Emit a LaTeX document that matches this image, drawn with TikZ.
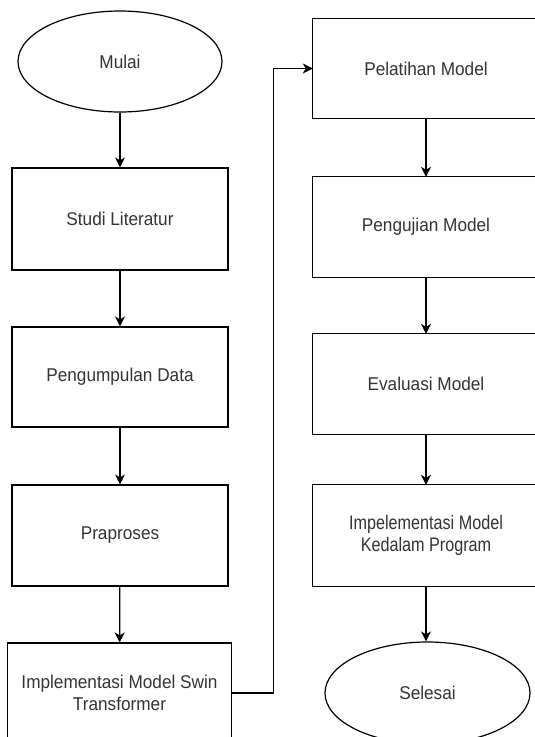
\documentclass[tikz,border=0pt]{standalone}
\usepackage{fontspec}
\setmainfont{Liberation Sans}
\newfontfamily\mainnarrow[FakeStretch=0.93]{Liberation Sans}
\newfontfamily\narrowfont[FakeStretch=0.83]{Liberation Sans}
\usetikzlibrary{shapes.geometric,arrows.meta}
\definecolor{txt}{HTML}{333333}
\tikzset{
  base/.style={font=\mainnarrow\fontsize{18.5}{22}\selectfont, text=txt, align=center, inner sep=0pt},
  lbox/.style={base, draw, line width=1.2pt, rectangle, minimum width=216pt, minimum height=100pt},
  rbox/.style={base, draw=none, rectangle, minimum width=226pt, minimum height=100pt},
  term/.style={base, draw, line width=1.2pt, ellipse},
  arr/.style={line width=1.2pt, -{Stealth[length=10pt,width=10pt,inset=3pt]}},
}
\begin{document}
\begin{tikzpicture}[x=1pt,y=-1pt]
\useasboundingbox (0,0) rectangle (535,737);
\clip (0,0) rectangle (535,737);
\fill[white] (0,0) rectangle (535,737);
% left column
\node[term, minimum width=204pt, minimum height=101pt] (mulai) at (120,61.5) {Mulai};
\node[lbox, minimum height=102pt] (studi) at (120,219) {Studi Literatur};
\node[lbox] (kumpul) at (120,377) {Pengumpulan Data};
\node[lbox, minimum height=101pt] (prap) at (120,535.5) {Praproses};
\node[lbox, minimum width=224pt] (swin) at (119.5,693) {Implementasi Model Swin\\Transformer};
% right column
\node[rbox, minimum height=99pt] (pel) at (426,68.5) {Pelatihan Model};
\node[rbox] (uji) at (426,227) {Pengujian Model};
\node[rbox] (eval) at (426,384) {Evaluasi Model};
\node[rbox, minimum height=101pt, font=\narrowfont\fontsize{19.5}{22}\selectfont] (prog) at (426,535.5) {Impelementasi Model\\Kedalam Program};
\node[term, minimum width=205pt, minimum height=102pt] (sel) at (427.5,693) {Selesai};
\foreach \n in {pel,uji,eval,prog}
  \draw[line width=1.2pt] (\n.north west) rectangle ([xshift=30pt]\n.south east);
% connectors
\draw[arr] (mulai.south) -- (studi.north);
\draw[arr] (studi) -- (kumpul);
\draw[arr] (kumpul) -- (prap);
\draw[arr] (prap) -- (swin);
\draw[arr] (swin.east) -- ++(41.3,0) |- (pel.west);
\draw[arr] (pel) -- (uji);
\draw[arr] (uji) -- (eval);
\draw[arr] (eval) -- (prog);
\draw[arr] (prog.south) -- (prog.south |- sel.north);
\end{tikzpicture}
\end{document}
